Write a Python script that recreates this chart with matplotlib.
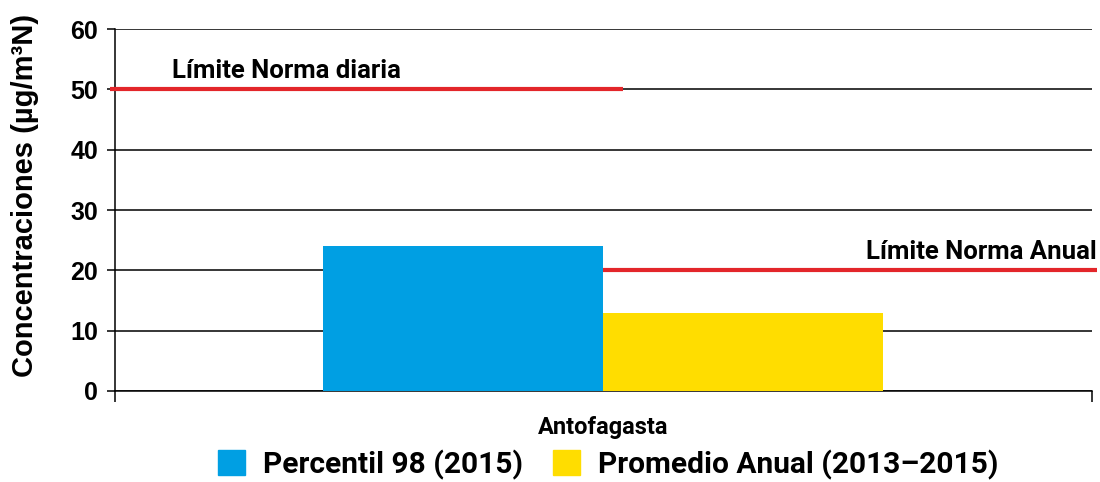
import matplotlib
matplotlib.use("Agg")
import matplotlib.pyplot as plt
from matplotlib.patches import Patch

categories = ["Antofagasta"]
series_names = ["Percentil 98 (2015)", "Promedio Anual (2013–2015)"]
percentil98 = [24]
promedio_anual = [13]
norma_diaria = 50
norma_anual = 20
yticks = [0, 10, 20, 30, 40, 50, 60]

cond = "Roboto"
arial = "Liberation Sans"

fig = plt.figure(figsize=(11, 4.82), dpi=100)
ax = fig.add_axes([0.1045, 0.1888, 0.8882, 0.751])

w = 0.2866
x = 0
ax.bar(x - w/2, percentil98[0], width=w, color="#009FE3", zorder=3)
ax.bar(x + w/2, promedio_anual[0], width=w, color="#FFDD00", zorder=3)

ax.set_xlim(-0.5, 0.5)
ax.set_ylim(0, 60)
ax.set_yticks(yticks)
ax.yaxis.grid(True, color="black", linewidth=1.1, zorder=0)
ax.set_axisbelow(True)

red = "#E3262A"
ax.plot([-0.505, 0.02], [norma_diaria, norma_diaria], color=red, lw=3, zorder=4, clip_on=False, solid_capstyle="butt")
ax.plot([0.0, 0.505], [norma_anual, norma_anual], color=red, lw=3, zorder=4, clip_on=False, solid_capstyle="butt")
ax.text(-0.442, norma_diaria + 1.0, "Límite Norma diaria", fontsize=18.5, fontweight="bold",
        family=[cond, "DejaVu Sans"], ha="left", va="bottom")
ax.text(0.505, norma_anual + 1.0, "Límite Norma Anual", fontsize=18.5, fontweight="bold",
        family=[cond, "DejaVu Sans"], ha="right", va="bottom")

for s in ["top", "right"]:
    ax.spines[s].set_visible(False)
ax.spines["left"].set_linewidth(1.1)
ax.spines["bottom"].set_linewidth(1.1)

ax.set_xticks([-0.5, 0.5])
ax.set_xticklabels(["", ""])
ax.tick_params(axis="x", length=8, width=1.1, direction="out")
ax.tick_params(axis="y", length=6, width=1.1, direction="out", pad=6)
for lab in ax.get_yticklabels():
    lab.set_fontfamily(arial)
    lab.set_fontweight("bold")
    lab.set_fontsize(18)

ax.text(0.0, -0.1, categories[0], transform=ax.get_xaxis_transform(), ha="center", va="center",
        fontsize=17, fontweight="bold", family=[cond, "DejaVu Sans"])

ax.set_ylabel("Concentraciones (µg/m³N)", fontsize=21, fontweight="bold", family=arial)
ax.yaxis.set_label_coords(-0.078, 0.54)

handles = [Patch(color="#009FE3"), Patch(color="#FFDD00")]
leg = fig.legend(handles, series_names, loc="center", bbox_to_anchor=(0.553, 0.036), ncol=2,
                 frameon=False, prop={"family": cond, "weight": "bold", "size": 21.5},
                 handlelength=0.9, handleheight=0.9, handletextpad=0.6, columnspacing=1.0,
                 borderpad=0.2)

fig.savefig("out.png", dpi=100)
